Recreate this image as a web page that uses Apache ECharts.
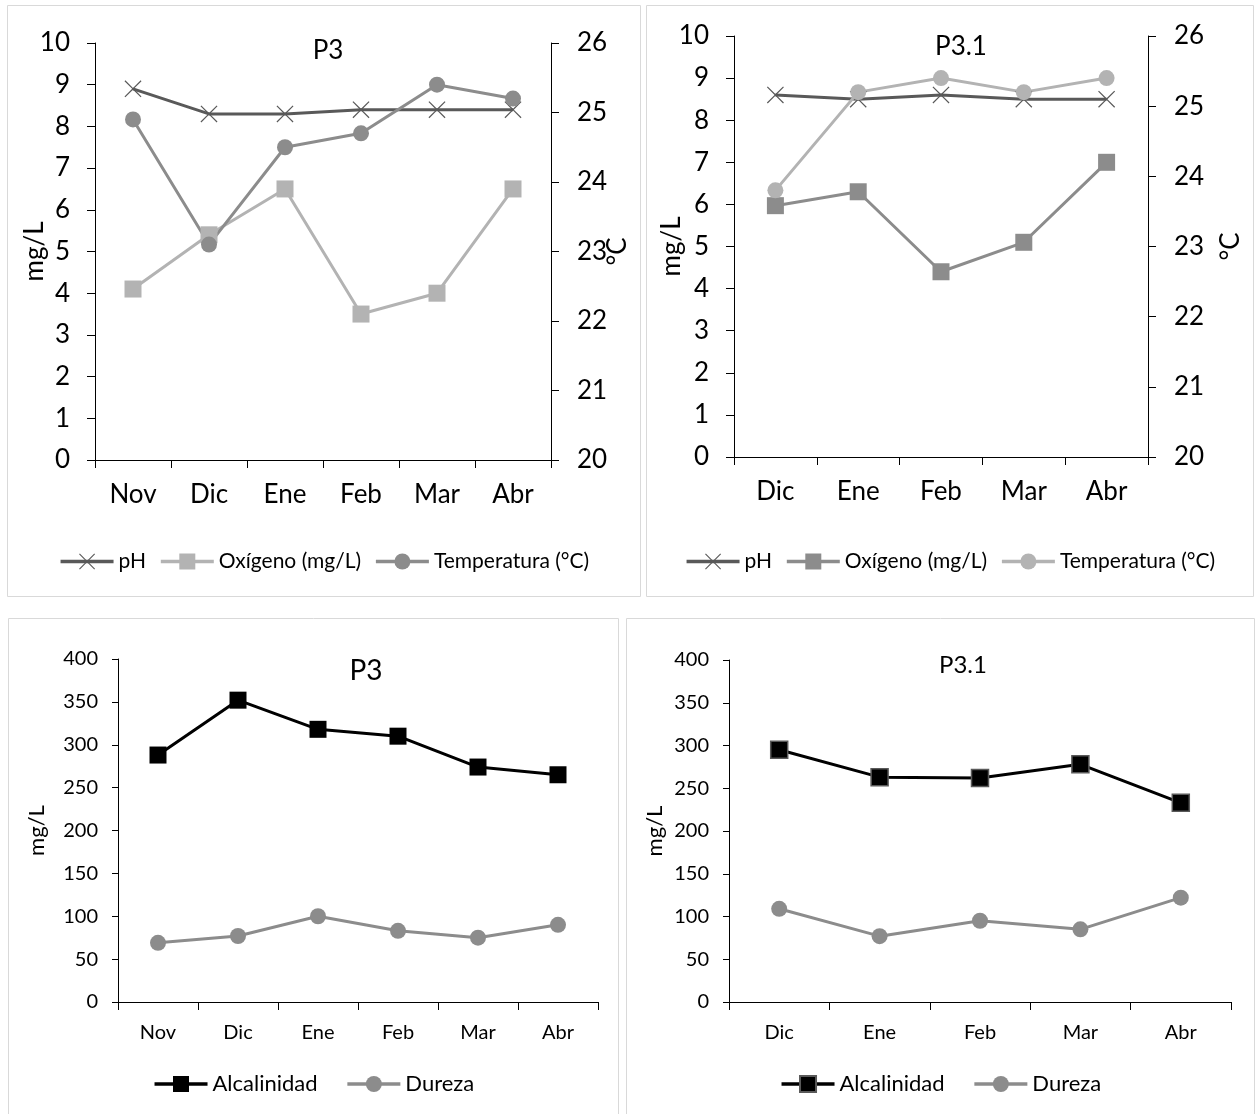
<!DOCTYPE html>
<html>
<head>
<meta charset="utf-8">
<script src="https://cdn.jsdelivr.net/npm/echarts@6/dist/echarts.min.js"></script>
<style>
  html, body { margin: 0; padding: 0; background: #fff; width: 1255px; height: 1114px; overflow: hidden; }
  .panel { position: absolute; }
</style>
</head>
<body>
<div id="c1" class="panel" style="left:7px;top:5px;width:634px;height:592px"></div>
<div id="c2" class="panel" style="left:646px;top:5px;width:608px;height:592px"></div>
<div id="c3" class="panel" style="left:8px;top:618px;width:611px;height:500px"></div>
<div id="c4" class="panel" style="left:626px;top:618px;width:629px;height:500px"></div>
<script>
// Months sampled at each station
const mesesP3 = ['Nov', 'Dic', 'Ene', 'Feb', 'Mar', 'Abr'];
const mesesP31 = ['Dic', 'Ene', 'Feb', 'Mar', 'Abr'];

// Station P3: field parameters
const phP3 = [8.9, 8.3, 8.3, 8.4, 8.4, 8.4];
const oxigenoP3 = [4.1, 5.4, 6.5, 3.5, 4.0, 6.5];
const temperaturaP3 = [24.9, 23.1, 24.5, 24.7, 25.4, 25.2];

// Station P3.1: field parameters
const phP31 = [8.6, 8.5, 8.6, 8.5, 8.5];
const oxigenoP31 = [5.97, 6.3, 4.4, 5.1, 7.0];
const temperaturaP31 = [23.8, 25.2, 25.4, 25.2, 25.4];

// Alkalinity and hardness (mg/L)
const alcalinidadP3 = [288, 352, 318, 310, 274, 265];
const durezaP3 = [69, 77, 100, 83, 75, 90];
const alcalinidadP31 = [295, 263, 262, 278, 233];
const durezaP31 = [109, 77, 95, 85, 122];

// Axis ranges
const rangoMg = { min: 0, max: 10, interval: 1 };
const rangoTemp = { min: 20, max: 26, interval: 1 };
const rangoAlc = { min: 0, max: 400, interval: 50 };

const FONT = 'Lato';
const CROSS = 'path://M0,0.8L0.8,0L8,7.2L15.2,0L16,0.8L8.8,8L16,15.2L15.2,16L8,8.8L0.8,16L0,15.2L7.2,8Z';

function borde(w, h) {
  return [{
    type: 'rect', silent: true,
    shape: { x: 0.5, y: 0.5, width: w - 1, height: h - 1 },
    style: { fill: 'none', stroke: '#d9d9d9', lineWidth: 1 }
  }];
}

function rejilla(g) {
  return { left: g[0], top: g[1], width: g[2], height: g[3], containLabel: false, outerBoundsMode: 'none' };
}

function ejeX(cats, fontSize, margin) {
  return {
    type: 'category', data: cats, boundaryGap: true,
    axisLine: { show: true, lineStyle: { color: '#000', width: 1 } },
    axisTick: { show: true, length: 8, lineStyle: { color: '#000' } },
    axisLabel: { color: '#000', fontFamily: FONT, fontSize: fontSize, margin: margin },
    splitLine: { show: false }
  };
}

function ejeY(rango, pos, opts) {
  return Object.assign({
    type: 'value', position: pos,
    min: rango.min, max: rango.max, interval: rango.interval,
    axisLine: { show: true, lineStyle: { color: '#000', width: 1 } },
    axisTick: { show: true, length: 8, lineStyle: { color: '#000' } },
    splitLine: { show: false },
    nameLocation: 'middle', nameRotate: 90, nameMoveOverlap: false,
    nameTextStyle: { color: '#000', fontFamily: FONT, fontSize: 26 }
  }, opts);
}

function serie(nombre, datos, color, simbolo, tam, yIdx, extra) {
  return Object.assign({
    name: nombre, type: 'line', data: datos, yAxisIndex: yIdx || 0,
    symbol: simbolo, symbolSize: tam, showAllSymbol: true,
    lineStyle: { color: color, width: 3 },
    itemStyle: { color: color },
    emphasis: { disabled: true },
    animation: false
  }, extra || {});
}

function opcionCampo(cfg) {
  return {
    animation: false,
    textStyle: { fontFamily: FONT },
    graphic: borde(cfg.w, cfg.h),
    title: {
      text: cfg.titulo, left: cfg.tituloX, top: cfg.tituloY, textAlign: 'center',
      textStyle: { fontFamily: FONT, fontSize: 26, fontWeight: 'normal', color: '#000' }
    },
    legend: {
      top: cfg.leyendaY, left: 'center', itemWidth: 53, itemHeight: 20, itemGap: 13,
      lineStyle: { width: 3.5 },
      textStyle: { fontFamily: FONT, fontSize: 21, color: '#000' },
      data: ['pH', 'Oxígeno (mg/L)', 'Temperatura (°C)']
    },
    grid: rejilla(cfg.grid),
    xAxis: ejeX(cfg.cats, 26, 22),
    yAxis: [
      ejeY(rangoMg, 'left', {
        name: 'mg/L', nameGap: cfg.gapMg,
        axisLabel: { color: '#000', fontFamily: FONT, fontSize: 26, margin: 25 }
      }),
      ejeY(rangoTemp, 'right', {
        name: '°C', nameGap: cfg.gapC,
        axisLabel: { color: '#000', fontFamily: FONT, fontSize: 26, margin: 26 }
      })
    ],
    series: [
      serie('pH', cfg.ph, '#595959', CROSS, 17, 0, { itemStyle: { color: '#595959' } }),
      serie('Oxígeno (mg/L)', cfg.oxigeno, cfg.colorOx, 'rect', 17, 0),
      serie('Temperatura (°C)', cfg.temp, cfg.colorTemp, 'circle', 16, 1)
    ]
  };
}

function opcionQuimica(cfg) {
  return {
    animation: false,
    textStyle: { fontFamily: FONT },
    graphic: borde(cfg.w, cfg.h),
    title: {
      text: cfg.titulo, left: cfg.tituloX, top: cfg.tituloY, textAlign: 'center',
      textStyle: { fontFamily: FONT, fontSize: cfg.tituloTam, fontWeight: 'normal', color: '#000' }
    },
    legend: {
      top: cfg.leyendaY, left: 'center', itemWidth: 53, itemHeight: 20, itemGap: 28,
      lineStyle: { width: 3.5 },
      textStyle: { fontFamily: FONT, fontSize: 22, color: '#000' },
      data: ['Alcalinidad', 'Dureza']
    },
    grid: rejilla(cfg.grid),
    xAxis: ejeX(cfg.cats, 20, 21),
    yAxis: [
      ejeY(rangoAlc, 'left', {
        name: 'mg/L', nameGap: cfg.gapMg,
        nameTextStyle: { color: '#000', fontFamily: FONT, fontSize: 22 },
        axisTick: { show: true, length: 6, lineStyle: { color: '#000' } },
        axisLabel: { color: '#000', fontFamily: FONT, fontSize: 20, margin: 20 }
      })
    ],
    series: [
      serie('Alcalinidad', cfg.alc, '#000', 'rect', 17, 0, {
        itemStyle: { color: '#000', borderColor: cfg.bordeAlc, borderWidth: cfg.bordeAlc ? 1.5 : 0 }
      }),
      serie('Dureza', cfg.dur, '#8c8c8c', 'circle', 16, 0)
    ]
  };
}

echarts.init(document.getElementById('c1'), null, { renderer: 'canvas' }).setOption(opcionCampo({
  w: 634, h: 592, titulo: 'P3', tituloX: 316, tituloY: 28, leyendaY: 541,
  grid: [88, 38, 456, 417], cats: mesesP3, gapMg: 47, gapC: 54,
  ph: phP3, oxigeno: oxigenoP3, temp: temperaturaP3,
  colorOx: '#b3b3b3', colorTemp: '#8c8c8c'
}));

echarts.init(document.getElementById('c2'), null, { renderer: 'canvas' }).setOption(opcionCampo({
  w: 608, h: 592, titulo: 'P3.1', tituloX: 310, tituloY: 24, leyendaY: 541,
  grid: [88, 31, 414, 421], cats: mesesP31, gapMg: 49, gapC: 70,
  ph: phP31, oxigeno: oxigenoP31, temp: temperaturaP31,
  colorOx: '#8c8c8c', colorTemp: '#b3b3b3'
}));

echarts.init(document.getElementById('c3'), null, { renderer: 'canvas' }).setOption(opcionQuimica({
  w: 611, h: 500, titulo: 'P3', tituloX: 353, tituloY: 34, tituloTam: 28, leyendaY: 450,
  grid: [110, 41, 480, 343], cats: mesesP3, gapMg: 70,
  alc: alcalinidadP3, dur: durezaP3, bordeAlc: null
}));

echarts.init(document.getElementById('c4'), null, { renderer: 'canvas' }).setOption(opcionQuimica({
  w: 629, h: 500, titulo: 'P3.1', tituloX: 332, tituloY: 30, tituloTam: 24, leyendaY: 450,
  grid: [103, 42, 502, 342], cats: mesesP31, gapMg: 63,
  alc: alcalinidadP31, dur: durezaP31, bordeAlc: '#595959'
}));
</script>
</body>
</html>
